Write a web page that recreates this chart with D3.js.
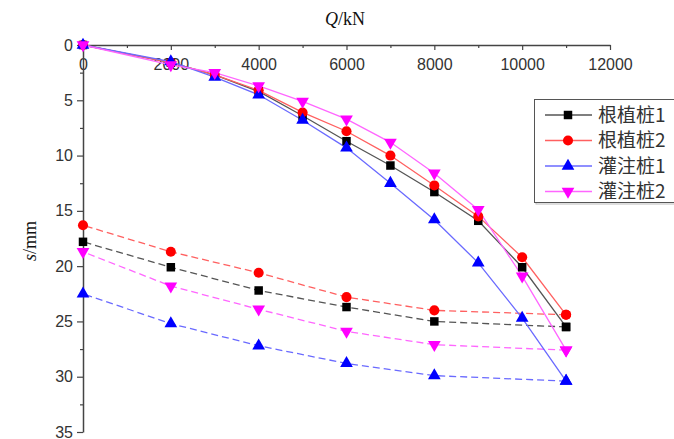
<!DOCTYPE html>
<html>
<head>
<meta charset="utf-8">
<script src="https://cdn.jsdelivr.net/npm/d3@7"></script>
<style>
  html, body { margin: 0; padding: 0; background: #fff; }
  svg { display: block; }
</style>
</head>
<body>
<svg id="chart" width="674" height="439"></svg>
<script>
// Load levels (kN) for the loading and unloading stages
const loadSteps = [0, 2000, 3000, 4000, 5000, 6000, 7000, 8000, 9000, 10000, 11000];
const unloadSteps = [11000, 8000, 6000, 4000, 2000, 0];

// Settlement (mm) while loading
const rootedPile1Load = [0, 1.6, 2.7, 4.2, 6.4, 8.7, 10.9, 13.3, 15.9, 20.1, 25.5];
const rootedPile2Load = [0, 1.6, 2.7, 4.1, 6.1, 7.8, 10.0, 12.7, 15.5, 19.2, 24.4];
const boredPile1Load  = [0, 1.5, 2.9, 4.5, 6.8, 9.3, 12.5, 15.8, 19.7, 24.7, 30.4];
const boredPile2Load  = [0, 1.8, 2.5, 3.7, 5.1, 6.7, 8.8, 11.6, 14.9, 20.9, 27.6];

// Settlement (mm) while unloading
const rootedPile1Unload = [25.5, 25.0, 23.7, 22.2, 20.1, 17.8];
const rootedPile2Unload = [24.4, 24.0, 22.8, 20.6, 18.7, 16.3];
const boredPile1Unload  = [30.4, 29.9, 28.8, 27.2, 25.2, 22.5];
const boredPile2Unload  = [27.6, 27.1, 25.9, 23.9, 21.8, 18.7];

const seriesNames = ["根植桩1", "根植桩2", "灌注桩1", "灌注桩2"];
const xTicks = [0, 2000, 4000, 6000, 8000, 10000, 12000];
const yTicks = [0, 5, 10, 15, 20, 25, 30, 35];

(function drawChart() {
  const series = [
    { name: seriesNames[0], load: rootedPile1Load, unload: rootedPile1Unload, color: "#000000", line: "#555555", shape: "square" },
    { name: seriesNames[1], load: rootedPile2Load, unload: rootedPile2Unload, color: "#ff0000", line: "#ff6060", shape: "circle" },
    { name: seriesNames[2], load: boredPile1Load,  unload: boredPile1Unload,  color: "#0000ff", line: "#6a6aff", shape: "triangle" },
    { name: seriesNames[3], load: boredPile2Load,  unload: boredPile2Unload,  color: "#ff00ff", line: "#ff66ff", shape: "triangleDown" }
  ];

  const svg = d3.select("#chart");
  const plotLeft = 83, plotRight = 610, plotTop = 45, plotBottom = 432;

  const x = d3.scaleLinear().domain([0, 12000]).range([plotLeft, plotRight]);
  const y = d3.scaleLinear().domain([0, 35]).range([plotTop, plotBottom]);

  const tickFont = "'Liberation Sans', Arial, sans-serif";

  // Top load axis, labels hanging below the line
  const xAxis = d3.axisBottom(x).tickValues(xTicks).tickFormat(d3.format("d"))
    .tickSize(5).tickSizeOuter(0).tickPadding(9);
  const gx = svg.append("g").attr("transform", `translate(0,${plotTop})`).call(xAxis);
  gx.select(".domain").attr("stroke", "#444").attr("stroke-width", 1.5);
  gx.selectAll(".tick line").attr("stroke", "#444").attr("stroke-width", 1.2);
  gx.selectAll(".tick text").attr("fill", "#333").style("font-family", tickFont).style("font-size", "16px");
  svg.append("g").attr("transform", `translate(0,${plotTop})`)
    .call(d3.axisBottom(x).tickValues(d3.range(1000, 12000, 2000)).tickSize(3).tickFormat(""))
    .call(g => g.select(".domain").remove())
    .selectAll(".tick line").attr("stroke", "#444").attr("stroke-width", 1.2);

  // Left settlement axis
  const yAxis = d3.axisLeft(y).tickValues(yTicks).tickFormat(d3.format("d"))
    .tickSize(6).tickSizeOuter(0).tickPadding(4);
  const gy = svg.append("g").attr("transform", `translate(${plotLeft},0)`).call(yAxis);
  gy.select(".domain").attr("stroke", "#444").attr("stroke-width", 1.5);
  gy.selectAll(".tick line").attr("stroke", "#444").attr("stroke-width", 1.2);
  gy.selectAll(".tick text").attr("fill", "#333").style("font-family", tickFont).style("font-size", "16px");
  svg.append("g").attr("transform", `translate(${plotLeft},0)`)
    .call(d3.axisLeft(y).tickValues(d3.range(2.5, 35, 5)).tickSize(3).tickFormat(""))
    .call(g => g.select(".domain").remove())
    .selectAll(".tick line").attr("stroke", "#444").attr("stroke-width", 1.2);

  // Axis titles
  const xTitle = svg.append("text").attr("x", 345).attr("y", 25).attr("text-anchor", "middle")
    .style("font-family", "'Liberation Serif', 'Times New Roman', serif").style("font-size", "18px").attr("fill", "#111");
  xTitle.append("tspan").style("font-style", "italic").text("Q");
  xTitle.append("tspan").text("/kN");

  const yTitle = svg.append("text").attr("transform", "translate(36,241) rotate(-90)").attr("text-anchor", "middle")
    .style("font-family", "'Liberation Serif', 'Times New Roman', serif").style("font-size", "18px").attr("fill", "#111");
  yTitle.append("tspan").style("font-style", "italic").text("s");
  yTitle.append("tspan").text("/mm");

  // Marker symbols
  const symbolFor = shape => {
    if (shape === "square") return d3.symbol().type(d3.symbolSquare).size(72)();
    if (shape === "circle") return d3.symbol().type(d3.symbolCircle).size(80)();
    return d3.symbol().type(d3.symbolTriangle).size(70)();
  };
  const rotFor = shape => shape === "triangleDown" ? " rotate(180)" : "";

  const line = d3.line().x(d => x(d[0])).y(d => y(d[1]));

  // Unloading curves (dashed)
  series.forEach(s => {
    const pts = unloadSteps.map((q, i) => [q, s.unload[i]]);
    svg.append("path").datum(pts).attr("d", line)
      .attr("fill", "none").attr("stroke", s.line).attr("stroke-width", 1.3)
      .attr("stroke-dasharray", "7,4");
  });

  // Loading curves (solid)
  series.forEach(s => {
    const pts = loadSteps.map((q, i) => [q, s.load[i]]);
    svg.append("path").datum(pts).attr("d", line)
      .attr("fill", "none").attr("stroke", s.line).attr("stroke-width", 1.3);
  });

  // Markers
  series.forEach(s => {
    const pts = loadSteps.map((q, i) => [q, s.load[i]])
      .concat(unloadSteps.map((q, i) => [q, s.unload[i]]));
    svg.append("g").selectAll("path").data(pts).join("path")
      .attr("d", symbolFor(s.shape))
      .attr("transform", d => `translate(${x(d[0])},${y(d[1])})${rotFor(s.shape)}`)
      .attr("fill", s.color);
  });

  // Legend
  const lg = svg.append("g");
  lg.append("rect").attr("x", 536).attr("y", 101).attr("width", 160).attr("height", 103)
    .attr("fill", "none").attr("stroke", "#bbb").attr("stroke-width", 1);
  lg.append("rect").attr("x", 534.5).attr("y", 99.5).attr("width", 160).attr("height", 103)
    .attr("fill", "#fff").attr("stroke", "#555").attr("stroke-width", 1);
  series.forEach((s, i) => {
    const ry = 115 + i * 25.5;
    lg.append("line").attr("x1", 545).attr("x2", 592).attr("y1", ry).attr("y2", ry)
      .attr("stroke", s.line).attr("stroke-width", 1.3);
    lg.append("path").attr("d", symbolFor(s.shape))
      .attr("transform", `translate(568,${ry})${rotFor(s.shape)}`).attr("fill", s.color);
    lg.append("text").attr("x", 598).attr("y", ry).attr("dy", "0.35em")
      .style("font-family", "'Noto Sans CJK SC', sans-serif").style("font-size", "19px")
      .attr("fill", "#333").text(s.name);
  });
})();
</script>
</body>
</html>
